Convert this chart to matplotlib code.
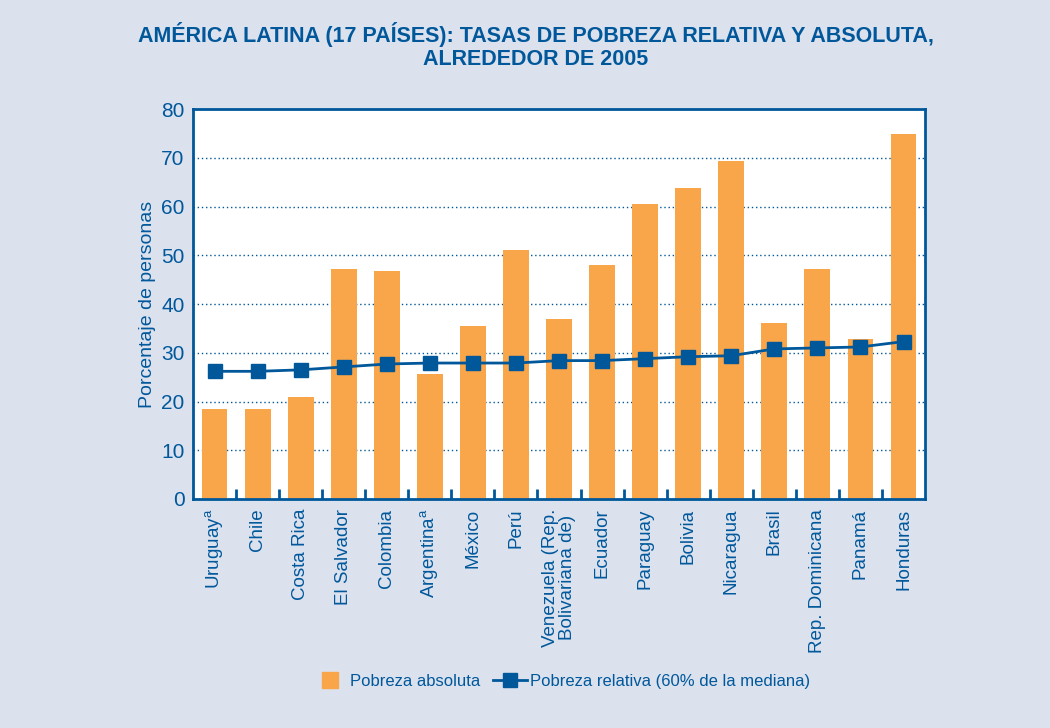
import matplotlib
matplotlib.use("Agg")
import matplotlib.pyplot as plt
from matplotlib.lines import Line2D
import numpy as np

# data
paises = ["Uruguay$^{\\mathregular{a}}$", "Chile", "Costa Rica", "El Salvador", "Colombia",
          "Argentina$^{\\mathregular{a}}$", "México", "Perú", "Venezuela (Rep.\nBolivariana de)",
          "Ecuador", "Paraguay", "Bolivia", "Nicaragua", "Brasil", "Rep. Dominicana",
          "Panamá", "Honduras"]
pobreza_absoluta = [18.5, 18.5, 21.0, 47.3, 46.7, 25.7, 35.4, 51.0, 37.0,
                    48.1, 60.5, 63.8, 69.3, 36.2, 47.3, 32.9, 74.9]
pobreza_relativa = [26.2, 26.2, 26.5, 27.1, 27.7, 27.9, 27.9, 27.9, 28.4,
                    28.4, 28.8, 29.2, 29.4, 30.8, 31.0, 31.2, 32.3]
yticks = [0, 10, 20, 30, 40, 50, 60, 70, 80]

BG = "#DCE1EE"
NARANJA = "#F9A54A"
AZUL = "#00589B"

plt.rcParams['font.family'] = ['Liberation Sans', 'DejaVu Sans']

fig = plt.figure(figsize=(10.5, 7.28), dpi=100, facecolor=BG)
ax = fig.add_axes([0.1838, 0.3146, 0.6972, 0.5354])
ax.set_facecolor("white")

x = np.arange(len(paises))
ax.bar(x, pobreza_absoluta, width=0.6, color=NARANJA, zorder=3)
linea, = ax.plot(x, pobreza_relativa, color=AZUL, lw=2, marker="s", markersize=10, zorder=4)

ax.set_xlim(-0.5, len(paises) - 0.5)
ax.set_ylim(0, 80)
ax.set_yticks(yticks)
ax.tick_params(axis="y", length=0, labelsize=15, labelcolor=AZUL, pad=6)
for y in yticks[1:-1]:
    ax.axhline(y, color=AZUL, lw=1, ls=(0, (1, 2)), zorder=1)

ax.set_xticks(x)
ax.set_xticklabels(paises, rotation=90, fontsize=13.5, color=AZUL, linespacing=0.95)
ax.tick_params(axis="x", length=0, pad=7)
ax.set_xticks(x[:-1] + 0.5, minor=True)
ax.tick_params(axis="x", which="minor", direction="in", length=7, width=2, color=AZUL)

for s in ax.spines.values():
    s.set_color(AZUL)
    s.set_linewidth(2)
    s.set_zorder(5)

ax.set_ylabel("Porcentaje de personas", fontsize=14, color=AZUL, labelpad=4)

fig.text(0.51, 0.937, "AMÉRICA LATINA (17 PAÍSES): TASAS DE POBREZA RELATIVA Y ABSOLUTA,\nALREDEDOR DE 2005",
         ha="center", va="center", fontsize=15.5, fontweight="bold", color=AZUL,
         linespacing=1.1)

cuadro = Line2D([], [], ls="", marker="s", markersize=12, color=NARANJA)
fig.legend([cuadro, linea], ["Pobreza absoluta", "Pobreza relativa (60% de la mediana)"],
           loc="center", bbox_to_anchor=(0.535, 0.064), ncol=2, frameon=False,
           fontsize=12, labelcolor=AZUL, handlelength=2.0, columnspacing=0.8,
           handletextpad=0.2)

fig.savefig("out.png", dpi=100, facecolor=BG)
